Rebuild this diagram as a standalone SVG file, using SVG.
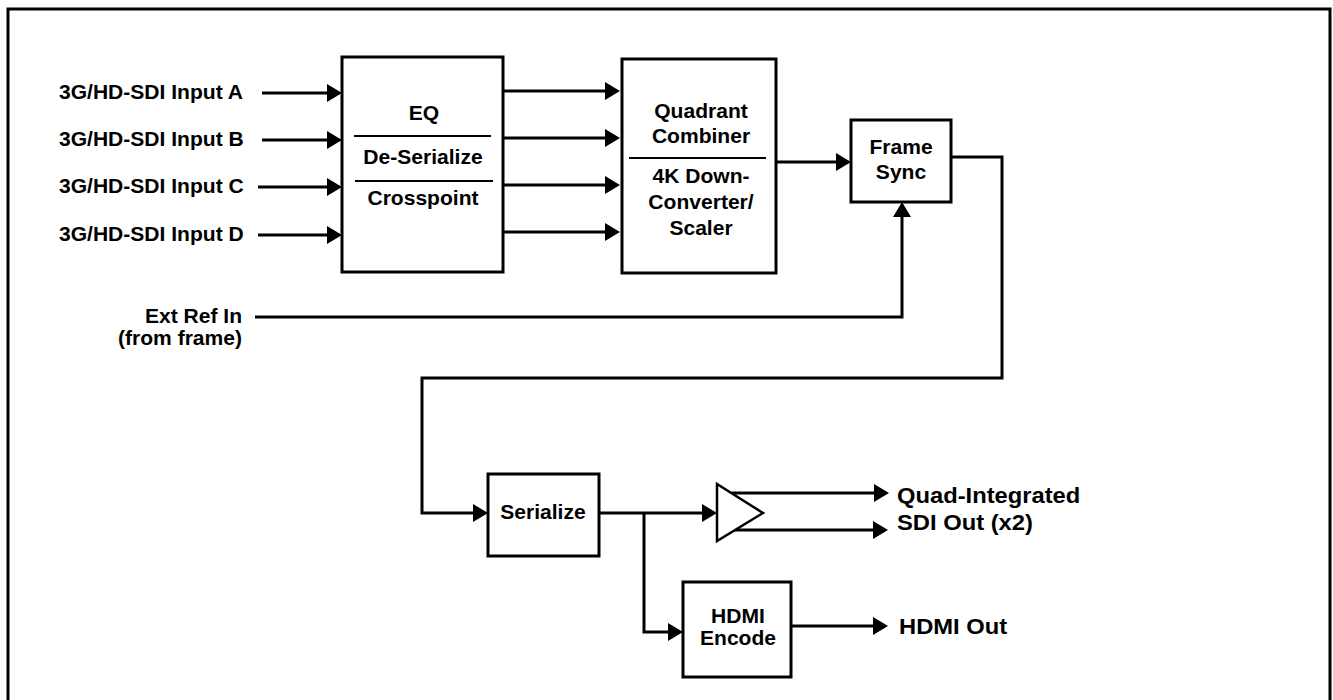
<svg xmlns="http://www.w3.org/2000/svg" width="1333" height="700" viewBox="0 0 1333 700">
<defs>
<style>
.box{fill:#fff;stroke:#000;stroke-width:3}
.ln{fill:none;stroke:#000;stroke-width:3}
.div{stroke:#000;stroke-width:2}
text{font-family:"Liberation Sans",Arial,sans-serif;font-weight:bold;fill:#000}
.t{font-size:19.5px}
.o{font-size:22px}
.m{text-anchor:middle}
.e{text-anchor:end}
</style>
<marker id="ah" viewBox="0 0 15 18" refX="7" refY="9" markerWidth="15" markerHeight="18" markerUnits="userSpaceOnUse" orient="auto">
<path d="M0,0 L15,9 L0,18 Z" fill="#000"/>
</marker>
</defs>
<rect x="0" y="0" width="1333" height="700" fill="#fff"/>
<rect x="8" y="9" width="1322" height="693" fill="none" stroke="#000" stroke-width="3"/>

<g id="connectors">
<line class="ln" x1="262" y1="93" x2="334" y2="93" marker-end="url(#ah)"/>
<line class="ln" x1="262" y1="140" x2="334" y2="140" marker-end="url(#ah)"/>
<line class="ln" x1="258" y1="187" x2="334" y2="187" marker-end="url(#ah)"/>
<line class="ln" x1="258" y1="235" x2="334" y2="235" marker-end="url(#ah)"/>
<line class="ln" x1="503" y1="91" x2="612" y2="91" marker-end="url(#ah)"/>
<line class="ln" x1="503" y1="138" x2="612" y2="138" marker-end="url(#ah)"/>
<line class="ln" x1="503" y1="185" x2="612" y2="185" marker-end="url(#ah)"/>
<line class="ln" x1="503" y1="232" x2="612" y2="232" marker-end="url(#ah)"/>
<line class="ln" x1="776" y1="162" x2="843" y2="162" marker-end="url(#ah)"/>
<polyline class="ln" points="255,317 902,317 902,210" marker-end="url(#ah)"/>
<polyline class="ln" points="951,157 1002,157 1002,378 422,378 422,513 480,513" marker-end="url(#ah)"/>
<line class="ln" x1="599" y1="513" x2="709" y2="513" marker-end="url(#ah)"/>
<polyline class="ln" points="644,513 644,632 675,632" marker-end="url(#ah)"/>
<line class="ln" x1="732" y1="493" x2="881" y2="493" marker-end="url(#ah)"/>
<line class="ln" x1="733" y1="530" x2="880" y2="530" marker-end="url(#ah)"/>
<line class="ln" x1="791" y1="626" x2="880" y2="626" marker-end="url(#ah)"/>
</g>

<g id="inputs">
<text class="t" transform="matrix(1.08 0 0 1 59 99)">3G/HD-SDI Input A</text>
<text class="t" transform="matrix(1.08 0 0 1 59 146)">3G/HD-SDI Input B</text>
<text class="t" transform="matrix(1.08 0 0 1 59 193)">3G/HD-SDI Input C</text>
<text class="t" transform="matrix(1.08 0 0 1 59 241)">3G/HD-SDI Input D</text>
</g>

<g id="extref">
<text class="t e" transform="matrix(1.08 0 0 1 242 323)">Ext Ref In</text>
<text class="t e" transform="matrix(1.08 0 0 1 242 345)">(from frame)</text>
</g>

<g id="eq">
<rect class="box" x="342" y="57" width="161" height="215"/>
<line class="div" x1="354" y1="136" x2="491" y2="136"/>
<line class="div" x1="355" y1="181" x2="493" y2="181"/>
<text class="t m" transform="matrix(1.08 0 0 1 424 120)">EQ</text>
<text class="t m" transform="matrix(1.08 0 0 1 423 164)">De-Serialize</text>
<text class="t m" transform="matrix(1.08 0 0 1 423 205)">Crosspoint</text>
</g>

<g id="quadrant">
<rect class="box" x="622" y="59" width="154" height="214"/>
<line class="div" x1="629" y1="158" x2="766" y2="158"/>
<text class="t m" transform="matrix(1.08 0 0 1 701 118)">Quadrant</text>
<text class="t m" transform="matrix(1.08 0 0 1 701 143)">Combiner</text>
<text class="t m" transform="matrix(1.08 0 0 1 701 183)">4K Down-</text>
<text class="t m" transform="matrix(1.08 0 0 1 701 209)">Converter/</text>
<text class="t m" transform="matrix(1.08 0 0 1 701 235)">Scaler</text>
</g>

<g id="framesync">
<rect class="box" x="851" y="120" width="100" height="82"/>
<text class="t m" transform="matrix(1.08 0 0 1 901 154)">Frame</text>
<text class="t m" transform="matrix(1.08 0 0 1 901 179)">Sync</text>
</g>

<g id="serialize">
<rect class="box" x="488" y="474" width="111" height="82"/>
<text class="t m" transform="matrix(1.08 0 0 1 543 519)">Serialize</text>
</g>

<g id="amp">
<polygon points="717,484 717,541 763,513" fill="#fff" stroke="#000" stroke-width="2.5"/>
</g>

<g id="hdmi">
<rect class="box" x="683" y="582" width="108" height="95"/>
<text class="t m" transform="matrix(1.08 0 0 1 738 623)">HDMI</text>
<text class="t m" transform="matrix(1.08 0 0 1 738 645)">Encode</text>
</g>

<g id="outputs">
<text class="o" transform="matrix(1.08 0 0 1 897 503)">Quad-Integrated</text>
<text class="o" transform="matrix(1.08 0 0 1 897 530)">SDI Out (x2)</text>
<text class="o" transform="matrix(1.08 0 0 1 899 634)">HDMI Out</text>
</g>
</svg>
